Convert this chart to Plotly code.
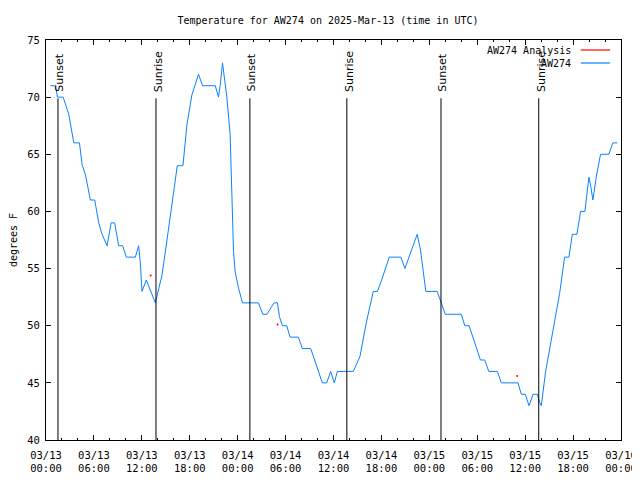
import pandas as pd
import plotly.graph_objects as go

base = pd.Timestamp("2025-03-13 00:00")

# Observed temperature (hours after 03/13 00:00 UTC, degrees F)
obs_hours = [0.56, 1.19, 1.44, 2.15, 2.85, 3.48, 4.19, 4.52, 4.94, 5.56, 6.1, 6.6, 7.02, 7.65,
             8.15, 8.6, 9.1, 9.6, 10.06, 11.19, 11.6, 11.81, 12.02, 12.56, 13.69, 13.98, 14.52,
             15.15, 15.56, 15.98, 16.44, 17.15, 17.65, 18.27, 18.69, 19.1, 19.6, 21.19, 21.6,
             21.81, 22.1, 22.65, 23.06, 23.27, 23.48, 23.69, 24.1, 24.6, 26.6, 27.15, 27.65,
             28.56, 28.98, 29.23, 29.6, 30.15, 30.56, 31.6, 32.1, 33.15, 33.9, 34.6, 35.15,
             35.65, 36.1, 36.48, 38.48, 39.31, 40.15, 40.98, 41.5, 42.03, 42.98, 44.44, 44.94,
             46.48, 46.9, 47.23, 47.56, 48.98, 49.5, 50.0, 52.0, 52.44, 52.98, 53.9, 54.4,
             54.94, 55.44, 56.52, 57.02, 59.1, 59.52, 60.02, 60.48, 60.98, 61.52, 61.81, 62.02,
             62.56, 63.48, 64.31, 64.94, 65.48, 65.9, 66.48, 66.94, 67.48, 67.98, 68.19, 68.48,
             68.9, 69.44, 70.48, 70.98, 71.52]
obs_temps = [71, 71, 70, 70, 68.5, 66, 66, 64.1, 63.2, 61, 61, 59, 58, 57,
             59, 59, 57, 57, 56, 56, 57, 55.5, 53, 54, 52, 52.8, 54.4,
             57.5, 59.7, 61.6, 64, 64, 67.6, 70.2, 71.2, 72, 71, 71, 70,
             71, 73, 70, 66.7, 62, 56.5, 54.7, 53.3, 52, 52, 51, 51,
             52, 52, 50.8, 50, 50, 49, 49, 48, 48, 46.4, 45, 45,
             46, 45, 46, 46, 47.3, 50.4, 53, 53, 54, 56, 56, 55,
             58, 56.6, 54.7, 53, 53, 52, 51, 51, 50, 50, 48, 47,
             47, 46, 46, 45, 45, 44, 44, 43, 44, 44, 43.3, 43,
             46, 49.5, 52.8, 56, 56, 58, 58, 60, 60, 63, 62.3, 61,
             63, 65, 65, 66, 66]

# Analysis points
ana_hours = [13.1, 29.0, 59.0]
ana_temps = [54.4, 50.1, 45.6]

# Sunrise / sunset events
sun_hours = [1.5, 13.77, 25.53, 37.67, 49.46, 61.7]
sun_labels = ["Sunset", "Sunrise", "Sunset", "Sunrise", "Sunset", "Sunrise"]

# Legend entries
legend_names = ["AW274 Analysis", "AW274"]
legend_colors = ["#ff0000", "#0a80ff"]

title_text = "Temperature for AW274 on 2025-Mar-13 (time in UTC)"
y_title = "degrees F"

def to_time(hours):
    return [base + pd.Timedelta(hours=h) for h in hours]

mono = "DejaVu Sans Mono"

fig = go.Figure()
fig.add_trace(go.Scatter(x=to_time(obs_hours), y=obs_temps, mode="lines",
                         line=dict(color=legend_colors[1], width=1), name=legend_names[1]))
fig.add_trace(go.Scatter(x=to_time(ana_hours), y=ana_temps, mode="markers",
                         marker=dict(color=legend_colors[0], size=2), name=legend_names[0]))

for t, lab in zip(to_time(sun_hours), sun_labels):
    fig.add_shape(type="line", xref="x", yref="y", x0=t, x1=t, y0=40, y1=69.9,
                  line=dict(color="black", width=1))
    fig.add_annotation(x=t, y=70.3, xref="x", yref="y", text=lab, textangle=-90,
                       showarrow=False, xanchor="center", yanchor="bottom", xshift=2,
                       font=dict(family="DejaVu Sans", size=11, color="black"))

# manual gnuplot-style legend (text left of sample)
for i, (name, col) in enumerate(zip(legend_names, legend_colors)):
    yp = 0.975 - i * 0.0325
    fig.add_annotation(x=0.9165, y=yp, xref="paper", yref="paper", text=name,
                       showarrow=False, xanchor="right", yanchor="middle",
                       font=dict(family=mono, size=10, color="black"))
    fig.add_shape(type="line", xref="paper", yref="paper", x0=0.930, x1=0.981,
                  y0=yp, y1=yp, line=dict(color=col, width=1.2))

# page body has an 8px margin, so the plot area is placed to compensate
fig.update_layout(
    width=640, height=480,
    margin=dict(l=38, r=27, t=32, b=48, autoexpand=False),
    paper_bgcolor="white", plot_bgcolor="white",
    showlegend=False,
    title=dict(text=title_text, x=0.5, xanchor="center", y=0.975, yanchor="middle",
               automargin=False,
               font=dict(family=mono, size=10, color="black")),
    font=dict(family=mono, size=10, color="black"),
)
fig.update_xaxes(
    type="date", automargin=False,
    range=[base, base + pd.Timedelta(hours=72)],
    dtick=6 * 3600 * 1000, tick0=base,
    tickformat="%m/%d<br>%H:%M",
    ticks="inside", ticklen=5, tickcolor="black",
    minor=dict(dtick=2 * 3600 * 1000, ticks="inside", ticklen=2, tickcolor="black"),
    showline=True, linecolor="black", linewidth=1, mirror="allticks",
    showgrid=False, zeroline=False, ticklabelstandoff=5,
    tickfont=dict(family=mono, size=10.5, color="black"),
)
fig.update_yaxes(
    range=[40, 75], dtick=5, automargin=False,
    ticks="inside", ticklen=5, tickcolor="black",
    showline=True, linecolor="black", linewidth=1, mirror="allticks",
    showgrid=False, zeroline=False, ticklabelstandoff=3,
    tickfont=dict(family=mono, size=10.5, color="black"),
    title=dict(text=y_title, standoff=17, font=dict(family=mono, size=10, color="black")),
)

fig.write_html("out.html")
